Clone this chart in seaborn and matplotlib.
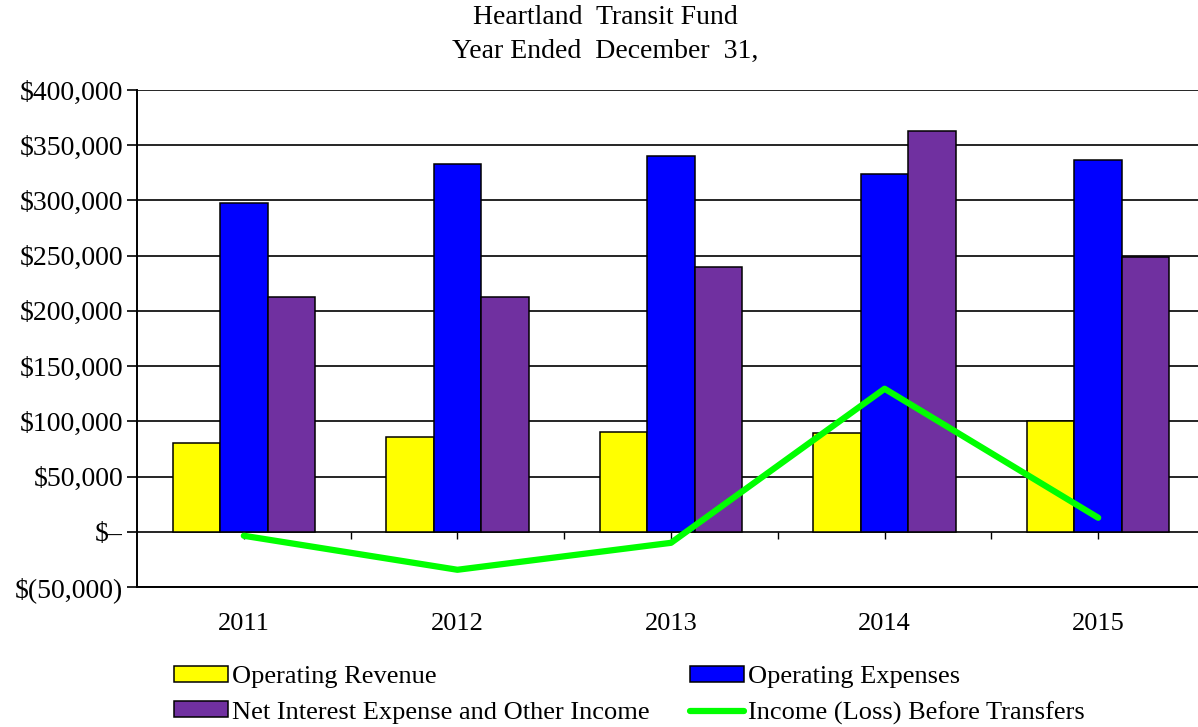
import numpy as np
import pandas as pd
import matplotlib
matplotlib.use("Agg")
import matplotlib.pyplot as plt
import seaborn as sns
from matplotlib.patches import Patch
from matplotlib.lines import Line2D
from matplotlib.ticker import FuncFormatter

# values
years = ["2011", "2012", "2013", "2014", "2015"]
operating_revenue = [80600, 86000, 90600, 89700, 100500]
operating_expenses = [298000, 333000, 340500, 324000, 337000]
net_interest = [213000, 213000, 240000, 363000, 249000]
income_before_transfers = [-3600, -34400, -10000, 129500, 12700]

series_names = ["Operating Revenue", "Operating Expenses",
                "Net Interest Expense and Other Income"]
bar_colors = ["#FFFF00", "#0000FF", "#7030A0"]
line_name = "Income (Loss) Before Transfers"
line_color = "#00FF00"

df = pd.DataFrame({
    "year": years * 3,
    "series": np.repeat(series_names, len(years)),
    "value": operating_revenue + operating_expenses + net_interest,
})

sns.set_theme(style="white")
plt.rcParams["font.family"] = ["Liberation Serif", "DejaVu Serif"]
plt.rcParams["text.color"] = "black"
plt.rcParams["xtick.color"] = "black"
plt.rcParams["ytick.color"] = "black"
FS = 19

fig = plt.figure(figsize=(11.98, 7.27), dpi=100)
ax = fig.add_axes([137 / 1198, 1 - 587 / 727, 1068 / 1198, 497 / 727])

sns.barplot(data=df, x="year", y="value", hue="series", hue_order=series_names,
            palette=bar_colors, width=0.667, gap=0, edgecolor="black",
            linewidth=1.1, saturation=1, legend=False, ax=ax, zorder=3)

sns.lineplot(x=np.arange(len(years)), y=income_before_transfers, color=line_color,
             linewidth=4.5, solid_capstyle="round", ax=ax, zorder=5)

ax.set_xlim(-0.5, len(years) - 0.5)
ax.set_ylim(-50000, 400000)
ax.set_yticks(np.arange(-50000, 400001, 50000))


def money(v, pos):
    if v == 0:
        return "$\u2013"
    if v < 0:
        return "$({:,.0f})".format(-v)
    return "${:,.0f}".format(v)


ax.yaxis.set_major_formatter(FuncFormatter(money))
ax.yaxis.grid(True, color="black", linewidth=1.2, zorder=0)
ax.set_axisbelow(True)
ax.tick_params(axis="y", left=True, length=7, width=1.2, color="black",
               labelsize=FS + 1, pad=3)
ax.tick_params(axis="x", bottom=False, labelsize=FS, pad=13)
ax.set_xlabel("")
ax.set_ylabel("")
for side in ["top", "right"]:
    ax.spines[side].set_visible(False)
for side in ["left", "bottom"]:
    ax.spines[side].set_color("black")
    ax.spines[side].set_linewidth(1.4)

# small tick marks along the zero line
zero_frac = 50000 / 450000
sec = ax.secondary_xaxis(zero_frac)
sec.set_xticks(np.arange(0, len(years) - 0.5, 0.5))
sec.tick_params(direction="out", length=5, width=1, color="black", labelbottom=False,
                labeltop=False, bottom=True, top=False)
sec.spines["bottom"].set_visible(False)
sec.spines["top"].set_visible(False)
sec.xaxis.set_ticks_position("bottom")
sec.set_xticklabels([])

fig.text(0.505, 0.993, "Heartland  Transit Fund\nYear Ended  December  31,",
         ha="center", va="top", fontsize=FS + 1, linespacing=1.45)

h_or = Patch(facecolor=bar_colors[0], edgecolor="black", linewidth=1.1)
h_oe = Patch(facecolor=bar_colors[1], edgecolor="black", linewidth=1.1)
h_ni = Patch(facecolor=bar_colors[2], edgecolor="black", linewidth=1.1)
h_ln = Line2D([], [], color=line_color, linewidth=4.5)

common = dict(frameon=False, fontsize=FS, loc="upper left", borderpad=0,
              borderaxespad=0, handlelength=2.05, handleheight=0.55,
              handletextpad=0.15, labelspacing=0.5)
fig.legend([h_or, h_ni], [series_names[0], series_names[2]],
           bbox_to_anchor=(174 / 1198, 1 - 666 / 727), **common)
fig.legend([h_oe, h_ln], [series_names[1], line_name],
           bbox_to_anchor=(690 / 1198, 1 - 666 / 727), **common)

fig.savefig("out.png", dpi=100)
